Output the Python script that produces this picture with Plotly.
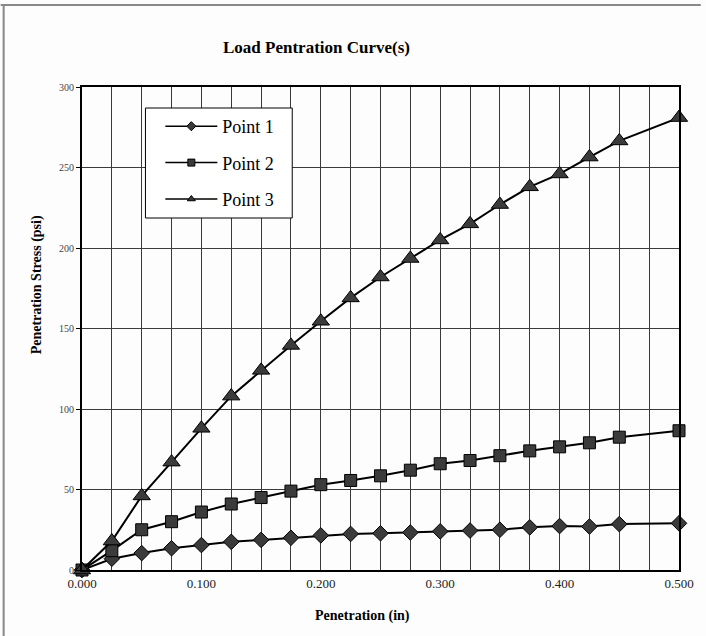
import plotly.graph_objects as go

# Penetration depths (in) and measured stresses (psi) for each test point
penetration = [0.000, 0.025, 0.050, 0.075, 0.100, 0.125, 0.150, 0.175, 0.200, 0.225,
               0.250, 0.275, 0.300, 0.325, 0.350, 0.375, 0.400, 0.425, 0.450, 0.500]
point1 = [0, 7, 10.5, 13.5, 15.5, 17.5, 18.7, 20, 21.5, 22.4,
          22.8, 23.3, 24, 24.5, 25, 26.5, 27.3, 27, 28.5, 29]
point2 = [0, 12, 25, 30, 36, 41, 45, 49, 53, 55.6,
          58.5, 62, 66, 68, 71, 74, 76.5, 79, 82.5, 86.5]
point3 = [0, 18, 46, 67, 88, 108, 124, 139.5, 154.5, 169,
          182, 193.5, 205, 215, 227, 238, 246, 256.5, 266.5, 281]

series_names = ["Point 1", "Point 2", "Point 3"]
x_tick_values = [0.0, 0.1, 0.2, 0.3, 0.4, 0.5]
y_tick_values = [0, 50, 100, 150, 200, 250, 300]

W, H = 706, 636
L, R, T, B = 82, 684, 87, 570  # plot-area edges in pixels

def px(x):
    return (x - L) / (R - L)

def py(y):
    return (B - y) / (B - T)

SERIF = "Liberation Serif"
FILL = "#3b3b3b"
symbols = ["diamond", "square", "triangle-up"]
sizes = [12, 12, 15]

fig = go.Figure()
for name, vals, sym, sz in zip(series_names, [point1, point2, point3], symbols, sizes):
    fig.add_trace(go.Scatter(
        x=penetration, y=vals, mode="lines+markers", name=name,
        line=dict(color="black", width=2),
        marker=dict(symbol=sym, size=sz, color=FILL, line=dict(color="black", width=1)),
        cliponaxis=False, showlegend=False,
    ))
    # small-marker entry for the legend box
    fig.add_trace(go.Scatter(
        x=[None], y=[None], mode="lines+markers", name=name, legendgroup=name,
        line=dict(color="black", width=1.5),
        marker=dict(symbol=sym, size=7, color=FILL, line=dict(color="black", width=1)),
    ))

fig.update_layout(
    width=W, height=H,
    margin=dict(l=L, r=W - R, t=T, b=H - B),
    paper_bgcolor="#fdfdfd", plot_bgcolor="#fdfdfd",
    font=dict(family=SERIF, color="black"),
    showlegend=True,
    legend=dict(
        x=px(161), y=py(108), xanchor="left", yanchor="top",
        bgcolor="rgba(0,0,0,0)", borderwidth=0,
        font=dict(family=SERIF, size=18, color="black"),
        tracegroupgap=10, itemwidth=52,
    ),
    xaxis=dict(
        range=[0, 0.5], tickvals=x_tick_values, tickformat=".3f",
        showgrid=True, gridcolor="#3a3a3a", gridwidth=1,
        minor=dict(dtick=0.025, showgrid=True, gridcolor="#3a3a3a", gridwidth=1),
        showline=True, linecolor="black", linewidth=2, mirror=True,
        ticks="", tickfont=dict(family=SERIF, size=13, color="#222"),
        zeroline=False,
    ),
    yaxis=dict(
        range=[0, 300], tickvals=y_tick_values,
        showgrid=True, gridcolor="#3a3a3a", gridwidth=1,
        showline=True, linecolor="black", linewidth=2, mirror=True,
        ticks="outside", ticklen=4, tickcolor="black",
        tickfont=dict(family=SERIF, size=10, color="#444"),
        zeroline=False,
    ),
    annotations=[
        dict(text="Load Pentration Curve(s)", x=px(318), y=py(48), xref="paper", yref="paper",
             xanchor="center", yanchor="middle",
             showarrow=False, font=dict(family=SERIF, size=17, weight="bold")),
        dict(text="Penetration (in)", x=px(365), y=py(616), xref="paper", yref="paper",
             xanchor="center", yanchor="middle",
             showarrow=False, font=dict(family=SERIF, size=14, weight="bold")),
        dict(text="Penetration Stress (psi)", x=px(37), y=py(285), xref="paper", yref="paper",
             xanchor="center", yanchor="middle",
             showarrow=False, textangle=-90, font=dict(family=SERIF, size=14, weight="bold")),
    ],
    shapes=[
        # legend frame
        dict(type="rect", xref="paper", yref="paper", layer="above",
             x0=px(146), x1=px(294), y0=py(218), y1=py(108),
             fillcolor="white", line=dict(color="black", width=1)),
        # page border
        dict(type="line", xref="paper", yref="paper", x0=px(0), x1=px(W), y0=py(5), y1=py(5),
             line=dict(color="#888", width=2)),
        dict(type="line", xref="paper", yref="paper", x0=px(3), x1=px(3), y0=py(5), y1=py(H),
             line=dict(color="#888", width=2)),
    ],
)

fig.write_html("out.html")
